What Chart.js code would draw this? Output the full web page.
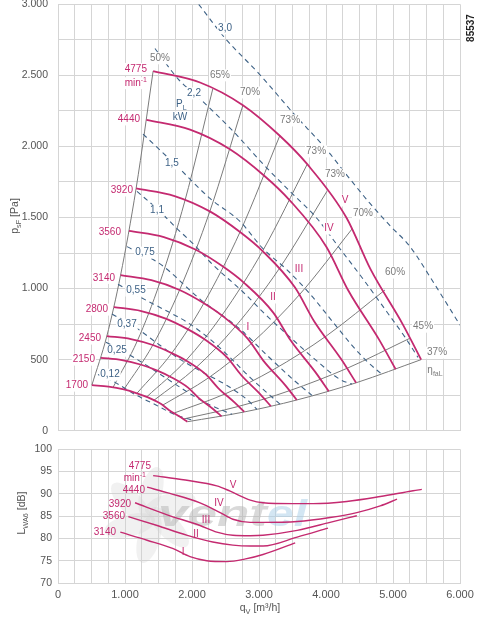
<!DOCTYPE html>
<html>
<head>
<meta charset="utf-8">
<script src="https://cdn.jsdelivr.net/npm/chart.js@4"></script>
<style>
html, body { margin: 0; padding: 0; background: #fff; }
#wrap { position: relative; width: 486px; height: 620px; overflow: hidden; }
canvas { position: absolute; left: 0; }
#top { top: -12px; }
#bot { top: 437px; }
</style>
</head>
<body>
<div id="wrap">
  <canvas id="top" width="486" height="459"></canvas>
  <canvas id="bot" width="486" height="183"></canvas>
</div>
<script>
// speed curves, q in m3/h, p in Pa
const speedLabels = ['4775', '4440', '3920', '3560', '3140', '2800', '2450', '2150', '1700'];
const speedQ = [
  [1420, 2120, 2760, 3310, 3720, 4310, 4660, 5150, 5420],
  [1320, 1971, 2566, 3078, 3459, 4007, 4333, 4788, 5040],
  [1166, 1740, 2266, 2717, 3054, 3538, 3825, 4228, 4449],
  [1059, 1580, 2058, 2468, 2773, 3213, 3474, 3839, 4041],
  [934, 1394, 1815, 2177, 2446, 2834, 3064, 3387, 3564],
  [833, 1243, 1618, 1941, 2181, 2527, 2733, 3020, 3178],
  [729, 1088, 1416, 1698, 1909, 2211, 2391, 2642, 2781],
  [639, 955, 1243, 1491, 1675, 1941, 2098, 2319, 2441],
  [506, 755, 983, 1178, 1324, 1534, 1659, 1833, 1930]
];
const speedP = [
  [2530, 2450, 2290, 2075, 1875, 1495, 1140, 745, 500],
  [2187, 2118, 1980, 1794, 1621, 1293, 986, 644, 432],
  [1705, 1651, 1543, 1398, 1264, 1007, 768, 502, 337],
  [1406, 1362, 1273, 1153, 1042, 831, 634, 414, 278],
  [1094, 1059, 990, 897, 811, 646, 493, 322, 216],
  [870, 842, 787, 713, 645, 514, 392, 256, 172],
  [666, 645, 603, 546, 494, 394, 300, 196, 132],
  [513, 497, 464, 421, 380, 303, 231, 151, 101],
  [321, 310, 290, 263, 238, 189, 144, 94, 63]
];

// efficiency lines (grey)
const effLabels = ['50%', '65%', '70%', '73%', '73%', '73%', '70%', '60%', '45%', '37%'];
const effQ = [
  [506, 729, 934, 1166, 1420],
  [822, 1185, 1519, 1896, 2310],
  [983, 1416, 1815, 2266, 2760],
  [1178, 1698, 2177, 2717, 3310],
  [1324, 1909, 2446, 3054, 3720],
  [1429, 2060, 2640, 3296, 4015],
  [1563, 2253, 2887, 3604, 4390],
  [1737, 2504, 3209, 4006, 4880],
  [1869, 2694, 3452, 4310, 5250],
  [1930, 2781, 3564, 4449, 5420]
];
const effP = [
  [321, 666, 1094, 1705, 2530],
  [305, 633, 1040, 1621, 2405],
  [290, 603, 990, 1543, 2290],
  [263, 546, 897, 1398, 2075],
  [238, 494, 811, 1264, 1875],
  [213, 444, 729, 1136, 1685],
  [180, 374, 614, 957, 1420],
  [125, 261, 428, 667, 990],
  [82, 171, 281, 438, 650],
  [63, 132, 216, 337, 500]
];

// shaft power lines P_L in kW (dashed)
const powerLabels = ['3,0', '2,2', '1,5', '1,1', '0,75', '0,55', '0,37', '0,25', '0,12'];
const powerQ = [
  [2100, 2493, 3015, 3507, 4015, 4313, 4657, 4955, 5254, 5627, 6000],
  [1448, 1791, 2119, 2612, 3119, 3463, 3866, 4209, 4552, 4910, 5179, 5373],
  [1269, 1776, 2269, 2716, 3060, 3418, 3761, 4104, 4388, 4627, 4836],
  [1179, 1522, 1776, 2015, 2313, 2761, 3089, 3463, 3836, 4209, 4388],
  [1030, 1522, 2119, 2716, 3119, 3507, 3791],
  [896, 1224, 1567, 1925, 2269, 2567, 2866, 3313],
  [806, 1149, 1522, 1821, 2164, 2522, 2821, 2970],
  [716, 1000, 1298, 1597, 1895, 2194, 2597],
  [597, 851, 1149, 1448, 1746, 2030]
];
const powerP = [
  [3000, 2762, 2504, 2236, 1974, 1797, 1599, 1443, 1295, 1026, 743],
  [2689, 2476, 2335, 2108, 1847, 1684, 1493, 1280, 1068, 835, 658, 516],
  [2087, 1861, 1634, 1472, 1281, 1132, 962, 764, 601, 481, 396],
  [1684, 1542, 1422, 1316, 1167, 976, 821, 658, 502, 361, 328],
  [1295, 1174, 926, 715, 531, 361, 248],
  [1030, 941, 856, 764, 644, 516, 375, 187],
  [821, 729, 601, 502, 410, 318, 219, 150],
  [623, 552, 467, 375, 283, 198, 115],
  [396, 340, 255, 184, 113, 71]
];

// sound power level L_WA6 in dB
const soundLabels = ['I', 'II', 'III', 'IV', 'V'];
const soundQ = [
  [930, 1330, 1720, 1970, 2220, 2520, 2800, 3060, 3540],
  [1050, 1480, 1930, 2310, 2610, 2870, 3060, 3570, 4030],
  [1150, 1630, 2120, 2370, 2610, 2870, 3060, 3570, 4060, 4460],
  [1330, 1670, 2120, 2420, 2610, 2870, 3060, 3570, 4060, 4460, 4810, 5060],
  [1420, 1900, 2370, 2570, 2870, 3060, 3500, 3810, 4310, 4810, 5300, 5430]
];
const soundL = [
  [81.4, 79.6, 77.7, 75.9, 75.0, 74.8, 75.4, 76.4, 79.0],
  [84.9, 82.9, 80.7, 79.2, 78.5, 78.3, 78.3, 80.3, 82.3],
  [88.0, 85.3, 82.9, 81.4, 80.7, 80.6, 80.7, 81.8, 83.6, 85.1],
  [91.5, 90.1, 88.0, 85.8, 84.3, 83.6, 83.6, 83.8, 84.7, 85.8, 87.3, 88.8],
  [94.1, 93.1, 91.8, 90.6, 88.6, 88.0, 87.8, 87.8, 88.3, 89.4, 90.7, 91.0]
];

const FAM = '"Liberation Sans", Arial, sans-serif';
const MAG = '#c42a70';
const GREY = '#7b7b7b';
const BLUE = '#3e6286';
const GRID = '#d5d5d5';

function fmt(v) {
  if (v < 1000) return String(v);
  return Math.floor(v / 1000) + '.' + String(v % 1000).padStart(3, '0');
}

function pts(qs, vs) {
  return qs.map((q, i) => ({ x: q, y: vs[i] }));
}

// text with sub/superscript parts
function richText(ctx, parts, x, y, align, size, color, bg) {
  let w = 0;
  const m = parts.map(([t, mode]) => {
    const s = mode ? size * 0.7 : size;
    ctx.font = s + 'px ' + FAM;
    const ww = ctx.measureText(t).width;
    w += ww;
    return [t, mode, s, ww];
  });
  let cx = align === 'right' ? x - w : align === 'center' ? x - w / 2 : x;
  if (bg) {
    ctx.fillStyle = '#fff';
    ctx.fillRect(cx - 1, y - size / 2 - 1, w + 2, size + 2);
  }
  ctx.fillStyle = color;
  ctx.textBaseline = 'middle';
  ctx.textAlign = 'left';
  m.forEach(([t, mode, s, ww]) => {
    ctx.font = s + 'px ' + FAM;
    const dy = mode === 'sub' ? size * 0.35 : mode === 'sup' ? -size * 0.35 : 0;
    ctx.fillText(t, cx, y + dy);
    cx += ww;
  });
}

function notesPlugin(notes, extra, under) {
  return {
    id: 'notes',
    beforeDatasetsDraw(chart) {
      if (under) { chart.ctx.save(); under(chart.ctx, chart); chart.ctx.restore(); }
    },
    afterDatasetsDraw(chart) {
      const { ctx, scales: { x, y } } = chart;
      ctx.save();
      notes.forEach(n => richText(ctx, n.parts || [[n.t, '']], x.getPixelForValue(n.q), y.getPixelForValue(n.v),
        n.a || 'center', 10, n.c, n.bg !== false));
      if (extra) extra(ctx, chart);
      ctx.restore();
    }
  };
}

function xScale(showLabels) {
  return {
    type: 'linear', min: 0, max: 6000,
    ticks: {
      stepSize: 250, autoSkip: false, maxRotation: 0, display: showLabels,
      color: '#555', font: { size: 11, family: FAM }, padding: 5,
      callback: v => v % 1000 === 0 ? fmt(v) : ''
    },
    grid: { color: GRID, drawTicks: false },
    border: { color: GRID },
    afterFit: s => { s.height = showLabels ? 37 : 10; }
  };
}

// ---- top chart: pressure ----
const topSets = [];
speedQ.forEach((qs, i) => topSets.push({
  label: speedLabels[i], data: pts(qs, speedP[i]), borderColor: MAG, borderWidth: 1.8, order: 1
}));
powerQ.forEach((qs, i) => topSets.push({
  label: powerLabels[i] + ' kW', data: pts(qs, powerP[i]), borderColor: BLUE, borderWidth: 1.1,
  borderDash: [5, 4], order: 2
}));
effQ.forEach((qs, i) => topSets.push({
  label: effLabels[i], data: pts(qs, effP[i]), borderColor: GREY, borderWidth: 1, order: 3
}));

const topNotes = [
  { t: '4775', q: 1328, v: 2545, c: MAG, a: 'right' },
  { parts: [['min', ''], ['-1', 'sup']], q: 1328, v: 2445, c: MAG, a: 'right' },
  { t: '4440', q: 1224, v: 2190, c: MAG, a: 'right' },
  { t: '3920', q: 1119, v: 1690, c: MAG, a: 'right' },
  { t: '3560', q: 940, v: 1394, c: MAG, a: 'right' },
  { t: '3140', q: 851, v: 1075, c: MAG, a: 'right' },
  { t: '2800', q: 746, v: 852, c: MAG, a: 'right' },
  { t: '2450', q: 642, v: 648, c: MAG, a: 'right' },
  { t: '2150', q: 552, v: 500, c: MAG, a: 'right' },
  { t: '1700', q: 448, v: 317, c: MAG, a: 'right' },
  { t: 'V', q: 4283, v: 1620, c: MAG },
  { t: 'IV', q: 4045, v: 1422, c: MAG },
  { t: 'III', q: 3597, v: 1134, c: MAG },
  { t: 'II', q: 3209, v: 937, c: MAG },
  { t: 'I', q: 2836, v: 725, c: MAG },
  { t: '3,0', q: 2493, v: 2831, c: BLUE },
  { t: '2,2', q: 2030, v: 2373, c: BLUE },
  { parts: [['P', ''], ['L', 'sub']], q: 1840, v: 2295, c: BLUE, bg: false },
  { t: 'kW', q: 1821, v: 2204, c: BLUE },
  { t: '1,5', q: 1701, v: 1880, c: BLUE },
  { t: '1,1', q: 1478, v: 1549, c: BLUE },
  { t: '0,75', q: 1298, v: 1253, c: BLUE },
  { t: '0,55', q: 1164, v: 986, c: BLUE },
  { t: '0,37', q: 1030, v: 746, c: BLUE },
  { t: '0,25', q: 881, v: 563, c: BLUE },
  { t: '0,12', q: 776, v: 394, c: BLUE },
  { t: '50%', q: 1522, v: 2620, c: GREY },
  { t: '65%', q: 2418, v: 2500, c: GREY },
  { t: '70%', q: 2866, v: 2380, c: GREY },
  { t: '73%', q: 3463, v: 2183, c: GREY },
  { t: '73%', q: 3851, v: 1965, c: GREY },
  { t: '73%', q: 4134, v: 1803, c: GREY },
  { t: '70%', q: 4552, v: 1528, c: GREY },
  { t: '60%', q: 5030, v: 1113, c: GREY },
  { t: '45%', q: 5448, v: 732, c: GREY },
  { t: '37%', q: 5657, v: 549, c: GREY },
  { parts: [['η', ''], ['faL', 'sub']], q: 5627, v: 425, c: GREY, bg: false }
];

new Chart(document.getElementById('top'), {
  type: 'line',
  data: { datasets: topSets },
  options: {
    responsive: false,
    animation: false,
    parsing: false,
    layout: { padding: { top: 0, right: 26, left: 0, bottom: 0 } },
    elements: { point: { radius: 0 }, line: { cubicInterpolationMode: 'monotone', fill: false } },
    plugins: { legend: { display: false }, tooltip: { enabled: false } },
    scales: {
      x: xScale(false),
      y: {
        type: 'linear', min: 0, max: 3000,
        ticks: {
          stepSize: 250, autoSkip: false, color: '#555', font: { size: 10.5, family: FAM }, padding: 10,
          callback: v => v % 500 === 0 ? fmt(v) : ''
        },
        grid: { color: GRID, drawTicks: false },
        border: { color: GRID },
        afterFit: s => { s.width = 58; }
      }
    }
  },
  plugins: [notesPlugin(topNotes, (ctx) => {
    ctx.save();
    ctx.translate(15, 228);
    ctx.rotate(-Math.PI / 2);
    richText(ctx, [['p', ''], ['sF', 'sub'], [' [Pa]', '']], 0, 0, 'center', 10.5, '#555', false);
    ctx.restore();
    ctx.save();
    ctx.translate(471, 40);
    ctx.rotate(-Math.PI / 2);
    ctx.font = 'bold 10px ' + FAM;
    ctx.fillStyle = '#222';
    ctx.textAlign = 'center';
    ctx.textBaseline = 'middle';
    ctx.fillText('85537', 0, 0);
    ctx.restore();
  })]
});

// ---- bottom chart: sound level ----
const botSets = soundQ.map((qs, i) => ({
  label: soundLabels[i], data: pts(qs, soundL[i]), borderColor: MAG, borderWidth: 1.4
}));

const botNotes = [
  { t: '4775', q: 1388, v: 96.1, c: MAG, a: 'right', bg: false },
  { parts: [['min', ''], ['-1', 'sup']], q: 1313, v: 93.4, c: MAG, a: 'right', bg: false },
  { t: '4440', q: 1298, v: 90.8, c: MAG, a: 'right', bg: false },
  { t: '3920', q: 1090, v: 87.7, c: MAG, a: 'right', bg: false },
  { t: '3560', q: 1000, v: 84.9, c: MAG, a: 'right', bg: false },
  { t: '3140', q: 866, v: 81.4, c: MAG, a: 'right', bg: false },
  { t: 'V', q: 2612, v: 91.9, c: MAG, bg: false },
  { t: 'IV', q: 2403, v: 88.0, c: MAG, bg: false },
  { t: 'III', q: 2209, v: 84.0, c: MAG, bg: false },
  { t: 'II', q: 2060, v: 80.9, c: MAG, bg: false },
  { t: 'I', q: 1866, v: 77.0, c: MAG, bg: false }
];

function watermark(ctx) {
  ctx.globalAlpha = 0.3;
  ctx.fillStyle = '#d0d0d0';
  ctx.translate(150, 78);
  for (let k = 0; k < 6; k++) {
    ctx.save();
    ctx.rotate(k * Math.PI / 3 + 0.3);
    ctx.beginPath();
    ctx.ellipse(22, 6, 26, 11, 0.5, 0, Math.PI * 2);
    ctx.fill();
    ctx.restore();
  }
  ctx.setTransform(1, 0, 0, 1, 0, 0);
  ctx.globalAlpha = 0.5;
  ctx.font = 'italic bold 36px ' + FAM;
  ctx.textBaseline = 'alphabetic';
  ctx.textAlign = 'left';
  let w = ctx.measureText('vent').width;
  ctx.save();
  ctx.translate(158, 89);
  ctx.scale(109 / w, 1);
  ctx.fillStyle = '#b4b4b4';
  ctx.fillText('vent', 0, 0);
  ctx.restore();
  w = ctx.measureText('el').width;
  ctx.save();
  ctx.translate(267, 89);
  ctx.scale(40 / w, 1);
  ctx.fillStyle = '#a8cde8';
  ctx.fillText('el', 0, 0);
  ctx.restore();
}

new Chart(document.getElementById('bot'), {
  type: 'line',
  data: { datasets: botSets },
  options: {
    responsive: false,
    animation: false,
    parsing: false,
    layout: { padding: { top: 5, right: 26, left: 0, bottom: 0 } },
    elements: { point: { radius: 0 }, line: { cubicInterpolationMode: 'monotone', fill: false } },
    plugins: { legend: { display: false }, tooltip: { enabled: false } },
    scales: {
      x: xScale(true),
      y: {
        type: 'linear', min: 70, max: 100,
        ticks: { stepSize: 5, color: '#555', font: { size: 10.5, family: FAM }, padding: 6 },
        grid: { color: GRID, drawTicks: false },
        border: { color: GRID },
        afterFit: s => { s.width = 58; }
      }
    }
  },
  plugins: [notesPlugin(botNotes, (ctx) => {
    ctx.save();
    ctx.translate(22, 76);
    ctx.rotate(-Math.PI / 2);
    richText(ctx, [['L', ''], ['WA6', 'sub'], [' [dB]', '']], 0, 0, 'center', 10.5, '#555', false);
    ctx.restore();
    richText(ctx, [['q', ''], ['V', 'sub'], [' [m³/h]', '']], 260, 171, 'center', 10.5, '#555', false);
  }, watermark)]
});
</script>
</body>
</html>
